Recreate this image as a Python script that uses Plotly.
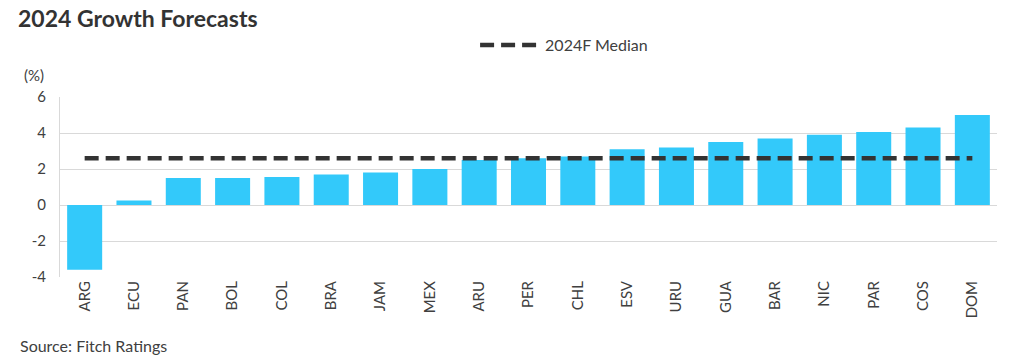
import plotly.graph_objects as go

categories = ["ARG", "ECU", "PAN", "BOL", "COL", "BRA", "JAM", "MEX", "ARU", "PER",
              "CHL", "ESV", "URU", "GUA", "BAR", "NIC", "PAR", "COS", "DOM"]
growth_2024 = [-3.6, 0.25, 1.5, 1.5, 1.55, 1.7, 1.8, 2.0, 2.5, 2.6,
               2.7, 3.1, 3.2, 3.5, 3.7, 3.9, 4.05, 4.3, 5.0]
median_2024 = 2.6
y_ticks = [-4, -2, 0, 2, 4, 6]
y_tick_text = ["-4", "-2", "0", "2", "4", "6"]

FONT = "Lato, 'Open Sans', sans-serif"
TXT = "#404040"

W, H = 1024, 361
fig = go.Figure()
fig.add_trace(go.Bar(
    x=categories, y=growth_2024, marker=dict(color="#33C9FA", line=dict(width=0)),
    showlegend=False, hoverinfo="x+y",
))
fig.add_trace(go.Scatter(
    x=categories, y=[median_2024] * len(categories), mode="lines",
    name="2024F Median",
    line=dict(color="#333333", width=4.5, dash="14px,7px"),
))

fig.update_layout(
    width=W, height=H,
    margin=dict(l=60, r=27, t=97, b=84),
    paper_bgcolor="white", plot_bgcolor="white",
    font=dict(family=FONT, color=TXT, size=15),
    bargap=0.29,
    title=dict(text="<b>2024 Growth Forecasts</b>", x=18 / W, xanchor="left",
               y=1 - 19 / H, yanchor="middle",
               font=dict(family=FONT, size=23, color="#333333")),
    legend=dict(orientation="h", x=0.443, xanchor="left", y=1.289, yanchor="middle",
                font=dict(size=16, color=TXT), itemwidth=60, bgcolor="rgba(0,0,0,0)"),
    xaxis=dict(tickangle=-90, showgrid=False, showline=False, ticks="",
               tickfont=dict(size=15, color=TXT)),
    yaxis=dict(range=[-4, 6], tickvals=y_ticks, ticktext=y_tick_text,
               showgrid=True, gridcolor="#d9d9d9",
               gridwidth=1, zeroline=True, zerolinecolor="#d9d9d9", zerolinewidth=1,
               showline=True, linecolor="#d9d9d9", linewidth=1, ticks="",
               ticklabelstandoff=10,
               tickfont=dict(size=15, color=TXT)),
    annotations=[
        dict(text="(%)", xref="paper", yref="paper", x=-0.0405, y=(277 - 75) / 180,
             xanchor="left", yanchor="middle", showarrow=False,
             font=dict(size=15, color=TXT)),
        dict(text="Source: Fitch Ratings", xref="paper", yref="paper",
             x=-0.0448, y=(277 - 345) / 180, xanchor="left", yanchor="middle",
             showarrow=False, font=dict(size=16, color=TXT)),
    ],
)

fig.write_html("out.html", config={"displayModeBar": False},
               post_script="document.body.style.margin='0';document.body.style.overflow='hidden';")
